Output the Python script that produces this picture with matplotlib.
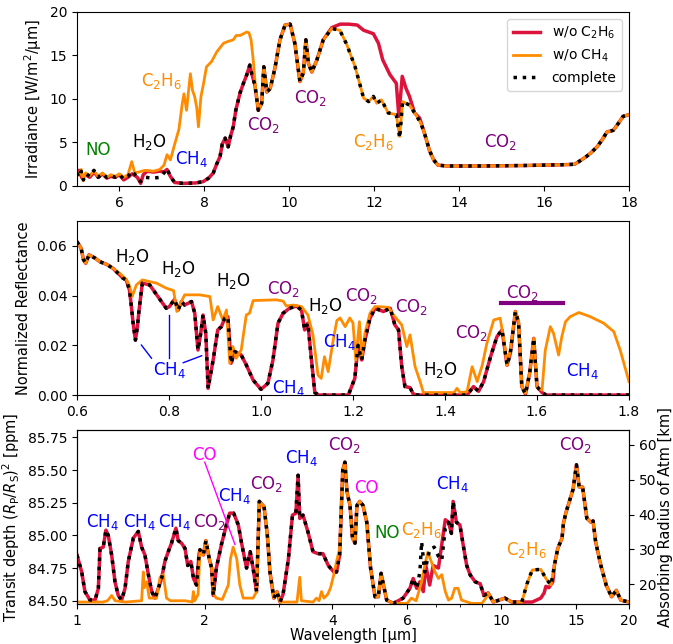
import matplotlib
matplotlib.use("Agg")
import matplotlib.pyplot as plt
import numpy as np

# ---- panel 1: thermal irradiance (5-18 um) ----
p1_red_wl = [5.0, 5.05, 5.12, 5.2, 5.3, 5.4, 5.5, 5.6, 5.7, 5.8, 5.9, 6.0, 6.1, 6.2, 6.3, 6.42,
             6.5, 6.56, 6.65, 6.8, 6.95, 7.05, 7.12, 7.2, 7.3, 7.5, 7.8, 7.97, 8.1, 8.21, 8.28,
             8.37, 8.42, 8.49, 8.56, 8.62, 8.68, 8.74, 8.84, 8.92, 9.0, 9.07, 9.11, 9.19, 9.27,
             9.35, 9.4, 9.47, 9.55, 9.66, 9.78, 9.9, 10.02, 10.13, 10.25, 10.33, 10.39, 10.45,
             10.53, 10.65, 10.8, 11.0, 11.2, 11.4, 11.6, 11.75, 11.98, 12.1, 12.2, 12.37, 12.52,
             12.58, 12.66, 12.75, 12.83, 12.95, 13.07, 13.2, 13.3, 13.4, 13.5, 13.7, 14.5, 15.5,
             16.0, 16.5, 16.72, 16.85, 17.0, 17.1, 17.25, 17.38, 17.48, 17.55, 17.63, 17.75,
             17.86, 18.0]
p1_red = [1.4, 1.8, 0.9, 1.3, 1.0, 1.6, 1.0, 1.4, 0.9, 1.1, 1.0, 1.3, 0.7, 1.0, 1.4, 1.0,
          0.3, 1.3, 1.7, 1.6, 1.7, 1.6, 1.9, 1.1, 0.4, 0.3, 0.35, 0.5, 0.9, 1.5, 2.4,
          3.4, 4.8, 5.5, 4.5, 5.8, 6.8, 8.7, 10.7, 11.8, 12.8, 13.9, 13.0, 11.6, 8.7,
          9.5, 13.7, 10.8, 11.2, 13.5, 16.8, 18.5, 18.6, 16.4, 12.0, 13.0, 16.8, 14.1,
          13.1, 14.5, 16.8, 18.2, 18.6, 18.6, 18.5, 17.9, 17.5, 16.4, 14.5, 12.8, 11.8,
          8.0, 12.6, 11.2, 10.3, 8.4, 7.8, 5.8, 4.1, 3.0, 2.4, 2.3, 2.3, 2.35,
          2.4, 2.45, 2.5, 2.9, 3.4, 3.8, 4.5, 5.4, 6.2, 6.3, 6.4, 7.2,
          8.0, 8.2]

p1_orange_wl = [5.0, 5.05, 5.1, 5.15, 5.2, 5.3, 5.4, 5.5, 5.6, 5.7, 5.8, 5.9, 6.0, 6.1, 6.2,
                6.29, 6.36, 6.45, 6.6, 6.8, 6.95, 7.05, 7.12, 7.2, 7.3, 7.4, 7.48, 7.52, 7.58,
                7.67, 7.72, 7.77, 7.82, 7.86, 7.92, 7.97, 8.05, 8.17, 8.29, 8.45, 8.55, 8.68,
                8.75, 8.84, 8.92, 9.0, 9.05, 9.1, 9.15, 9.21, 9.27, 9.35, 9.4, 9.47, 9.55, 9.66,
                9.78, 9.9, 10.02, 10.13, 10.25, 10.33, 10.39, 10.45, 10.53, 10.65, 10.8, 11.0,
                11.19, 11.35, 11.55, 11.75, 11.87, 11.98, 12.06, 12.17, 12.33, 12.52, 12.6,
                12.67, 12.83, 12.98, 13.1, 13.2, 13.3, 13.4, 13.5, 13.7, 14.5, 15.5, 16.0, 16.5,
                16.72, 16.85, 17.0, 17.1, 17.25, 17.38, 17.48, 17.55, 17.63, 17.75, 17.86, 18.0]
p1_orange = [1.6, 1.2, 1.9, 0.6, 1.5, 1.2, 1.7, 1.1, 1.5, 1.0, 1.3, 1.1, 1.4, 1.0, 1.3,
             2.8, 1.5, 1.6, 1.8, 1.7, 1.9, 2.4, 3.6, 3.0, 4.8, 6.5, 9.5, 10.6, 8.7,
             12.9, 11.0, 10.3, 9.0, 6.8, 10.3, 11.5, 13.7, 14.3, 15.4, 16.4, 16.6, 16.8,
             17.3, 17.3, 17.5, 17.7, 17.6, 16.8, 14.5, 11.0, 8.7, 9.5, 13.7, 10.8, 11.2, 13.5,
             16.8, 18.5, 18.6, 16.4, 12.0, 13.0, 16.8, 14.1, 13.1, 14.5, 16.8, 18.1,
             17.9, 16.3, 13.7, 10.1, 9.7, 10.3, 9.5, 9.9, 8.4, 8.2, 5.7,
             9.7, 9.3, 8.2, 7.2, 5.8, 4.1, 3.0, 2.4, 2.3, 2.3, 2.35, 2.4, 2.45,
             2.5, 2.9, 3.4, 3.8, 4.5, 5.4, 6.2, 6.3, 6.4, 7.2, 8.0, 8.2]

p1_black_wl = [5.0, 5.05, 5.1, 5.15, 5.22, 5.3, 5.4, 5.5, 5.6, 5.7, 5.8, 5.9, 6.0, 6.1, 6.2,
               6.3, 6.4, 6.5, 6.6, 6.8, 6.95, 7.05, 7.12, 7.2, 7.3, 7.5, 7.8, 7.97, 8.1, 8.21,
               8.28, 8.37, 8.42, 8.49, 8.56, 8.62, 8.68, 8.74, 8.84, 8.92, 9.0, 9.07, 9.11, 9.19,
               9.27, 9.35, 9.4, 9.47, 9.55, 9.66, 9.78, 9.9, 10.02, 10.13, 10.25, 10.33, 10.39,
               10.45, 10.53, 10.65, 10.8, 11.0, 11.19, 11.35, 11.55, 11.75, 11.87, 11.98, 12.06,
               12.17, 12.33, 12.52, 12.6, 12.67, 12.83, 12.98, 13.1, 13.2, 13.3, 13.4, 13.5,
               13.7, 14.5, 15.5, 16.0, 16.5, 16.72, 16.85, 17.0, 17.1, 17.25, 17.38, 17.48,
               17.55, 17.63, 17.75, 17.86, 18.0]
p1_black = [1.5, 1.0, 1.7, 0.7, 1.4, 1.1, 1.8, 1.0, 1.4, 1.0, 1.2, 1.0, 1.3, 0.8, 1.1,
            1.7, 1.1, 0.5, 1.0, 0.9, 1.0, 1.5, 2.0, 1.1, 0.4, 0.3, 0.35, 0.5, 0.9, 1.5,
            2.4, 3.4, 4.8, 5.5, 4.5, 5.8, 6.8, 8.7, 10.7, 11.8, 12.8, 13.9, 13.0, 11.6,
            8.7, 9.5, 13.7, 10.8, 11.2, 13.5, 16.8, 18.5, 18.6, 16.4, 12.0, 13.0, 16.8,
            14.1, 13.1, 14.5, 16.8, 18.1, 17.9, 16.3, 13.7, 10.1, 9.7, 10.3, 9.5,
            9.9, 8.4, 8.2, 5.5, 9.7, 9.3, 8.2, 7.2, 5.8, 4.1, 3.0, 2.4,
            2.3, 2.3, 2.35, 2.4, 2.45, 2.5, 2.9, 3.4, 3.8, 4.5, 5.4, 6.2,
            6.3, 6.4, 7.2, 8.0, 8.2]

# ---- panel 2: reflected light (0.6-1.8 um) ----
p2_red_wl = [0.6, 0.609, 0.614, 0.619, 0.626, 0.64, 0.649, 0.665, 0.678, 0.693, 0.7, 0.707,
             0.714, 0.718, 0.722, 0.727, 0.731, 0.735, 0.742, 0.758, 0.776, 0.794, 0.801, 0.812,
             0.82, 0.827, 0.834, 0.849, 0.856, 0.863, 0.869, 0.874, 0.88, 0.885, 0.896, 0.906,
             0.914, 0.921, 0.928, 0.935, 0.943, 0.957, 0.968, 0.983, 1.0, 1.015, 1.026, 1.037,
             1.048, 1.062, 1.077, 1.088, 1.095, 1.102, 1.109, 1.117, 1.125, 1.19, 1.197, 1.204,
             1.211, 1.219, 1.226, 1.237, 1.248, 1.266, 1.281, 1.291, 1.299, 1.306, 1.313, 1.324,
             1.331, 1.34, 1.448, 1.462, 1.473, 1.484, 1.499, 1.513, 1.524, 1.535, 1.542, 1.553,
             1.56, 1.567, 1.575, 1.584, 1.593, 1.6, 1.611, 1.62, 1.8]
p2_red = [0.0617, 0.059, 0.0545, 0.053, 0.0564, 0.055, 0.0537, 0.0525, 0.051, 0.0483, 0.047, 0.0463,
          0.0423, 0.036, 0.0289, 0.0221, 0.027, 0.0342, 0.045, 0.0443, 0.0396, 0.0349, 0.0356, 0.0385,
          0.0342, 0.0376, 0.0362, 0.0376, 0.0329, 0.0181, 0.0248, 0.0322, 0.0248, 0.0027, 0.0141, 0.0262,
          0.0275, 0.0309, 0.0315, 0.0128, 0.0175, 0.0161, 0.0121, 0.006, 0.0023, 0.0047, 0.0141, 0.0289,
          0.0329, 0.0349, 0.0358, 0.0342, 0.0262, 0.0289, 0.0154, 0.001, 0.0, 0.0, 0.0034, 0.0067,
          0.020, 0.0141, 0.0221, 0.0309, 0.0349, 0.0336, 0.0349, 0.0282, 0.0262, 0.0114, 0.0034, 0.003,
          0.0004, 0.0, 0.0, 0.0034, 0.0015, 0.0054, 0.0154, 0.0235, 0.0262, 0.012, 0.0168, 0.0336,
          0.0289, 0.0034, 0.0004, 0.0087, 0.0228, 0.0034, 0.001, 0.0, 0.0]

p2_orange_wl = [0.6, 0.609, 0.614, 0.619, 0.626, 0.64, 0.649, 0.665, 0.678, 0.693, 0.707, 0.714,
                0.72, 0.729, 0.742, 0.773, 0.794, 0.81, 0.817, 0.827, 0.834, 0.867, 0.889, 0.896,
                0.906, 0.917, 0.925, 0.932, 0.939, 0.946, 0.957, 0.968, 0.975, 0.983, 1.033, 1.048,
                1.055, 1.07, 1.088, 1.102, 1.113, 1.124, 1.131, 1.138, 1.146, 1.157, 1.165, 1.172,
                1.183, 1.193, 1.2, 1.206, 1.214, 1.219, 1.226, 1.237, 1.248, 1.277, 1.291, 1.306,
                1.317, 1.324, 1.335, 1.346, 1.353, 1.42, 1.426, 1.433, 1.448, 1.459, 1.47, 1.481,
                1.491, 1.506, 1.52, 1.528, 1.535, 1.542, 1.553, 1.56, 1.567, 1.575, 1.584, 1.593,
                1.6, 1.611, 1.618, 1.629, 1.636, 1.647, 1.654, 1.662, 1.672, 1.691, 1.716, 1.745,
                1.767, 1.781, 1.8]
p2_orange = [0.0617, 0.059, 0.0545, 0.053, 0.0564, 0.055, 0.0537, 0.0525, 0.051, 0.049, 0.0465, 0.044,
             0.0396, 0.0443, 0.0463, 0.045, 0.043, 0.042, 0.0336, 0.0376, 0.0403, 0.0403, 0.0396, 0.0302,
             0.0356, 0.0302, 0.0342, 0.0128, 0.0195, 0.0148, 0.0181, 0.0322, 0.0329, 0.038, 0.0383, 0.0378,
             0.0358, 0.0362, 0.0356, 0.0322, 0.0242, 0.008, 0.0067, 0.0154, 0.0094, 0.0221, 0.030, 0.031,
             0.0275, 0.031, 0.029, 0.0141, 0.0295, 0.0154, 0.0248, 0.0329, 0.0356, 0.0353, 0.0315, 0.0282,
             0.0195, 0.0242, 0.0114, 0.0054, 0.001, 0.001, 0.0027, 0.001, 0.0013, 0.0114, 0.0054, 0.012,
             0.0208, 0.0302, 0.0309, 0.0221, 0.012, 0.018, 0.0336, 0.0302, 0.0034, 0.0007, 0.0087, 0.0228,
             0.0034, 0.002, 0.018, 0.0275, 0.0248, 0.0161, 0.0235, 0.0295, 0.0315, 0.0332, 0.0315, 0.0289,
             0.0255, 0.018, 0.0054]

# ---- panel 3: transmission (1-20 um) ----
p3_red_wl = [1.0, 1.026, 1.044, 1.073, 1.103, 1.123, 1.133, 1.153, 1.17, 1.185, 1.207, 1.229,
             1.251, 1.274, 1.298, 1.321, 1.358, 1.395, 1.42, 1.446, 1.473, 1.5, 1.527, 1.555,
             1.583, 1.611, 1.641, 1.67, 1.711, 1.732, 1.764, 1.797, 1.824, 1.855, 1.882, 1.913,
             1.94, 1.949, 1.985, 2.013, 2.05, 2.077, 2.095, 2.13, 2.19, 2.25, 2.29, 2.34, 2.4,
             2.44, 2.51, 2.56, 2.6, 2.65, 2.69, 2.76, 2.81, 2.85, 2.91, 2.96, 3.01, 3.06, 3.15,
             3.22, 3.28, 3.32, 3.35, 3.41, 3.5, 3.6, 3.7, 3.8, 3.91, 4.03, 4.09, 4.16, 4.23,
             4.28, 4.33, 4.4, 4.46, 4.52, 4.57, 4.64, 4.72, 4.82, 4.92, 5.04, 5.13, 5.21, 5.27,
             5.37, 5.57, 5.87, 6.09, 6.2, 6.32, 6.43, 6.55, 6.64, 6.78, 6.91, 7.11, 7.24, 7.38,
             7.51, 7.63, 7.7, 7.84, 7.99, 8.13, 8.29, 8.44, 8.68, 8.92, 9.1, 9.31, 9.58, 10.2,
             10.58, 11.83, 12.39, 12.62, 12.74, 12.95, 13.23, 13.34, 13.59, 13.91, 14.01, 14.22,
             14.76, 15.04, 15.26, 15.55, 15.91, 16.27, 16.46, 16.69, 17.17, 17.67, 18.2, 18.67,
             19.12, 20.0]
p3_red = [84.85, 84.72, 84.57, 84.505, 84.505, 84.595, 84.9, 84.91, 85.04, 85.0, 84.85, 84.645,
          84.54, 84.505, 84.595, 84.8, 84.98, 85.03, 84.91, 84.85, 84.7, 84.57, 84.52, 84.595,
          84.67, 84.8, 84.875, 84.94, 85.055, 84.96, 84.94, 84.9, 84.77, 84.8, 84.67, 84.62,
          84.86, 84.89, 84.85, 84.96, 84.82, 84.75, 84.54, 84.75, 84.93, 85.08, 85.17, 85.17, 85.08,
          84.95, 84.75, 84.875, 84.75, 84.57, 85.26, 85.22, 85.0, 84.72, 84.52, 84.57, 84.49, 84.55, 84.82,
          85.155, 85.17, 85.46, 85.13, 85.155, 85.03, 84.875, 84.86, 84.86, 84.77, 84.72, 84.72, 84.85, 85.5,
          85.56, 85.33, 85.23, 84.98, 84.94, 85.23, 85.26, 85.23, 85.1, 84.75, 84.53, 84.53, 84.71, 84.63,
          84.505, 84.48, 84.52, 84.595, 84.67, 84.595, 84.645, 84.57, 84.77, 84.62, 84.77, 84.75, 84.93, 85.12,
          85.1, 85.015, 85.26, 85.1, 85.08, 84.93, 84.77, 84.7, 84.645, 84.63, 84.54, 84.56, 84.49, 84.52,
          84.49, 84.49, 84.52, 84.56, 84.61, 84.6, 84.645, 84.77, 84.9, 84.98, 85.09, 85.18,
          85.35, 85.54, 85.37, 85.37, 85.13, 85.1, 85.11, 84.95, 84.77, 84.62, 84.53, 84.58,
          84.505, 84.49]

p3_orange_wl = [1.0, 1.15, 1.18, 1.207, 1.23, 1.3, 1.42, 1.433, 1.44, 1.46, 1.48, 1.54, 1.569,
                1.597, 1.626, 1.66, 1.8, 1.87, 1.88, 1.895, 1.93, 1.949, 1.985, 2.013, 2.05, 2.077,
                2.1, 2.13, 2.2, 2.273, 2.3, 2.334, 2.38, 2.42, 2.465, 2.6, 2.65, 2.69, 2.76, 2.81,
                2.85, 2.91, 2.96, 3.01, 3.3, 3.35, 3.38, 3.6, 3.67, 3.72, 3.77, 3.82, 3.9, 3.96,
                4.03, 4.09, 4.16, 4.23, 4.28, 4.33, 4.4, 4.46, 4.52, 4.57, 4.64, 4.72, 4.82, 4.92,
                5.04, 5.13, 5.21, 5.27, 5.37, 5.57, 6.0, 6.14, 6.3, 6.49, 6.6, 6.71, 6.84, 6.98,
                7.11, 7.24, 7.38, 7.51, 7.64, 7.77, 7.91, 8.06, 8.5, 9.0, 9.2, 9.31, 9.58, 10.2,
                10.58, 11.18, 11.5, 11.83, 12.39, 12.74, 13.1, 13.34, 13.59, 13.91, 14.01, 14.22,
                14.76, 15.04, 15.26, 15.55, 15.91, 16.27, 16.46, 16.69, 17.17, 17.67, 18.2, 18.67,
                19.12, 20.0]
p3_orange = [84.49, 84.49, 84.5, 84.54, 84.5, 84.49, 84.5, 84.72, 84.6, 84.645, 84.52, 84.52, 84.68,
             84.7, 84.52, 84.5, 84.5, 84.49, 84.57, 84.5, 84.55, 84.89, 84.85, 84.96, 84.82, 84.75,
             84.55, 84.52, 84.51, 84.62, 84.82, 84.91, 84.82, 84.62, 84.52, 84.52, 84.57, 85.26, 85.22, 85.0,
             84.72, 84.52, 84.57, 84.49, 84.49, 84.68, 84.5, 84.49, 84.52, 84.5, 84.57, 84.52, 84.55, 84.6,
             84.7, 84.8, 84.9, 85.5, 85.56, 85.33, 85.23, 84.98, 84.94, 85.23, 85.26, 85.23, 85.1, 84.75,
             84.53, 84.53, 84.71, 84.63, 84.505, 84.48, 84.48, 84.52, 84.5, 84.645, 84.77, 84.87, 84.8, 84.72,
             84.67, 84.7, 84.57, 84.505, 84.52, 84.595, 84.595, 84.505, 84.48, 84.48, 84.52, 84.56, 84.49, 84.52,
             84.49, 84.49, 84.63, 84.735, 84.74, 84.67, 84.62, 84.77, 84.9, 84.98, 85.09, 85.18,
             85.35, 85.54, 85.37, 85.37, 85.13, 85.1, 85.11, 84.95, 84.77, 84.62, 84.53, 84.58,
             84.505, 84.49]

p3_black_wl = [1.0, 1.026, 1.044, 1.073, 1.103, 1.123, 1.133, 1.153, 1.17, 1.185, 1.207, 1.229,
               1.251, 1.274, 1.298, 1.321, 1.358, 1.395, 1.42, 1.446, 1.473, 1.5, 1.527, 1.555,
               1.583, 1.611, 1.641, 1.67, 1.711, 1.732, 1.764, 1.797, 1.824, 1.855, 1.882, 1.913,
               1.94, 1.949, 1.985, 2.013, 2.05, 2.077, 2.095, 2.13, 2.19, 2.25, 2.29, 2.34, 2.4,
               2.44, 2.51, 2.56, 2.6, 2.65, 2.69, 2.76, 2.81, 2.85, 2.91, 2.96, 3.01, 3.06, 3.15,
               3.22, 3.28, 3.32, 3.35, 3.41, 3.5, 3.6, 3.7, 3.8, 3.91, 4.03, 4.09, 4.16, 4.23,
               4.28, 4.33, 4.4, 4.46, 4.52, 4.57, 4.64, 4.72, 4.82, 4.92, 5.04, 5.13, 5.21, 5.27,
               5.37, 5.57, 5.87, 6.09, 6.2, 6.32, 6.43, 6.49, 6.6, 6.78, 6.95, 7.11, 7.24, 7.38,
               7.51, 7.63, 7.7, 7.84, 7.99, 8.13, 8.29, 8.44, 8.68, 8.92, 9.1, 9.31, 9.58, 10.2,
               10.58, 11.18, 11.5, 11.83, 12.39, 12.74, 13.1, 13.34, 13.59, 13.91, 14.01, 14.22,
               14.76, 15.04, 15.26, 15.55, 15.91, 16.27, 16.46, 16.69, 17.17, 17.67, 18.2, 18.67,
               19.12, 20.0]
p3_black = [84.85, 84.72, 84.57, 84.505, 84.505, 84.595, 84.9, 84.91, 85.04, 85.0, 84.85, 84.645,
            84.54, 84.505, 84.595, 84.8, 84.98, 85.03, 84.91, 84.85, 84.7, 84.57, 84.52, 84.595,
            84.67, 84.8, 84.875, 84.94, 85.055, 84.96, 84.94, 84.9, 84.77, 84.8, 84.67, 84.62,
            84.86, 84.89, 84.85, 84.96, 84.82, 84.75, 84.54, 84.75, 84.93, 85.08, 85.17, 85.17, 85.08,
            84.95, 84.75, 84.875, 84.75, 84.57, 85.26, 85.22, 85.0, 84.72, 84.52, 84.57, 84.49, 84.55, 84.82,
            85.155, 85.17, 85.46, 85.13, 85.155, 85.03, 84.875, 84.86, 84.86, 84.77, 84.72, 84.72, 84.85, 85.5,
            85.56, 85.33, 85.23, 84.98, 84.94, 85.23, 85.26, 85.23, 85.1, 84.75, 84.53, 84.53, 84.71, 84.63,
            84.505, 84.48, 84.52, 84.595, 84.67, 84.595, 84.72, 84.95, 84.72, 84.89, 84.91, 84.84, 84.81, 85.055,
            85.1, 85.015, 85.26, 85.1, 85.08, 84.93, 84.77, 84.7, 84.645, 84.63, 84.54, 84.56, 84.49, 84.52,
            84.49, 84.49, 84.63, 84.735, 84.74, 84.67, 84.62, 84.77, 84.9, 84.98, 85.09, 85.18,
            85.35, 85.54, 85.37, 85.37, 85.13, 85.1, 85.11, 84.95, 84.77, 84.62, 84.53, 84.58,
            84.505, 84.49]

# molecule labels: (text, x, y, colour)
p1_labels = [("NO", 5.5, 4.1, "green"), ("H$_2$O", 6.7, 5.1, "black"),
             ("CH$_4$", 7.7, 3.1, "blue"), ("C$_2$H$_6$", 6.99, 12.1, "darkorange"),
             ("CO$_2$", 9.39, 7.0, "purple"), ("CO$_2$", 10.49, 10.1, "purple"),
             ("C$_2$H$_6$", 11.98, 5.1, "darkorange"), ("CO$_2$", 14.98, 5.0, "purple")]
p2_labels = [("H$_2$O", 0.72, 0.0555, "black"), ("H$_2$O", 0.82, 0.0505, "black"),
             ("H$_2$O", 0.94, 0.0458, "black"), ("CO$_2$", 1.048, 0.0425, "purple"),
             ("H$_2$O", 1.139, 0.0358, "black"), ("CH$_4$", 1.17, 0.0215, "blue"),
             ("CH$_4$", 1.059, 0.003, "blue"), ("CH$_4$", 0.8, 0.0102, "blue"),
             ("CO$_2$", 1.219, 0.040, "purple"), ("CO$_2$", 1.328, 0.0353, "purple"),
             ("CO$_2$", 1.458, 0.0251, "purple"), ("H$_2$O", 1.389, 0.0102, "black"),
             ("CO$_2$", 1.569, 0.041, "purple"), ("CH$_4$", 1.699, 0.0095, "blue")]
p3_labels = [("CH$_4$", 1.15, 85.1, "blue"), ("CH$_4$", 1.402, 85.1, "blue"),
             ("CH$_4$", 1.696, 85.1, "blue"), ("CO$_2$", 2.05, 85.1, "purple"),
             ("CO", 2.0, 85.615, "magenta"), ("CH$_4$", 2.35, 85.3, "blue"),
             ("CO$_2$", 2.8, 85.39, "purple"), ("CH$_4$", 3.38, 85.59, "blue"),
             ("CO$_2$", 4.28, 85.69, "purple"), ("CO", 4.82, 85.365, "magenta"),
             ("NO", 5.39, 85.015, "green"), ("C$_2$H$_6$", 6.49, 85.04, "darkorange"),
             ("CH$_4$", 7.68, 85.39, "blue"), ("C$_2$H$_6$", 11.44, 84.89, "darkorange"),
             ("CO$_2$", 14.98, 85.69, "purple")]

RED = "crimson"
ORANGE = "darkorange"
plt.rcParams["font.size"] = 10
plt.rcParams["axes.labelsize"] = 10.5

fig = plt.figure(figsize=(6.73, 6.44), dpi=100)
ax1 = fig.add_axes([0.1144, 0.7112, 0.8202, 0.2702])
ax2 = fig.add_axes([0.1144, 0.3866, 0.8202, 0.2702])
ax3 = fig.add_axes([0.1144, 0.0621, 0.8202, 0.2702])

# panel 1
ax1.plot(p1_red_wl, p1_red, color=RED, lw=2.5, label="w/o C$_2$H$_6$")
ax1.plot(p1_orange_wl, p1_orange, color=ORANGE, lw=2, label="w/o CH$_4$")
ax1.plot(p1_black_wl, p1_black, color="black", lw=2.5, ls=":", label="complete")
ax1.set_xlim(5, 18)
ax1.set_ylim(0, 20)
ax1.set_xticks([6, 8, 10, 12, 14, 16, 18])
ax1.set_yticks([0, 5, 10, 15, 20])
ax1.set_ylabel("Irradiance [W/m$^2$/μm]")
ax1.legend(loc="upper right", fontsize=10)
for txt, x, y, c in p1_labels:
    ax1.text(x, y, txt, color=c, fontsize=12, ha="center", va="center")

# panel 2
ax2.plot(p2_red_wl, p2_red, color=RED, lw=2.5)
ax2.plot(p2_orange_wl, p2_orange, color=ORANGE, lw=2)
ax2.plot(p2_red_wl, p2_red, color="black", lw=2.5, ls=":")
ax2.set_xlim(0.6, 1.8)
ax2.set_ylim(0, 0.07)
ax2.set_xticks([0.6, 0.8, 1.0, 1.2, 1.4, 1.6, 1.8])
ax2.set_yticks([0.0, 0.02, 0.04, 0.06])
ax2.set_ylabel("Normalized Reflectance")
for txt, x, y, c in p2_labels:
    ax2.text(x, y, txt, color=c, fontsize=12, ha="center", va="center")
ax2.plot([0.74, 0.762], [0.0201, 0.0148], color="blue", lw=1)
ax2.plot([0.8, 0.8], [0.0322, 0.0148], color="blue", lw=1)
ax2.plot([0.831, 0.871], [0.013, 0.0158], color="blue", lw=1)
ax2.plot([1.521, 1.657], [0.0372, 0.0372], color="purple", lw=3)

# panel 3
ax3.plot(p3_red_wl, p3_red, color=RED, lw=2.5)
ax3.plot(p3_orange_wl, p3_orange, color=ORANGE, lw=2)
ax3.plot(p3_black_wl, p3_black, color="black", lw=2.5, ls=":")
ax3.set_xscale("log")
ax3.set_xlim(1, 20)
ax3.set_ylim(84.475, 85.806)
ax3.set_xticks([1, 2, 4, 6, 10, 15, 20])
ax3.set_xticklabels(["1", "2", "4", "6", "10", "15", "20"])
ax3.set_yticks([84.5, 84.75, 85.0, 85.25, 85.5, 85.75])
ax3.set_yticklabels(["84.50", "84.75", "85.00", "85.25", "85.50", "85.75"])
ax3.set_ylabel("Transit depth $(R_{\\rm P}/R_{\\rm S})^2$ [ppm]")
ax3.set_xlabel("Wavelength [μm]", labelpad=0)
for txt, x, y, c in p3_labels:
    ax3.text(x, y, txt, color=c, fontsize=12, ha="center", va="center")
ax3.plot([2.0, 2.357], [85.56, 84.93], color="magenta", lw=1)

ax3r = ax3.twinx()
ax3r.set_ylim(14.3, 64.3)
ax3r.set_yticks([20, 30, 40, 50, 60])
ax3r.set_ylabel("Absorbing Radius of Atm [km]", labelpad=1)

fig.savefig("out.png", dpi=100)
